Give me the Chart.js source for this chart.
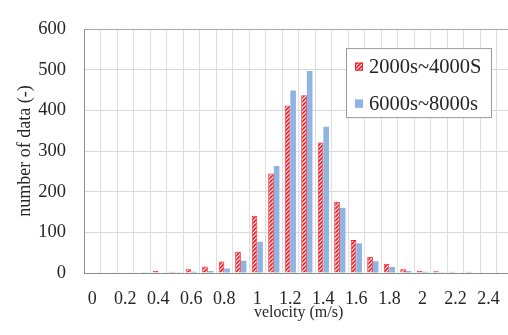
<!DOCTYPE html>
<html>
<head>
  <meta charset="utf-8">
  <title>Velocity histogram</title>
  <style>
    html, body {
      margin: 0;
      padding: 0;
      background: #fff;
      overflow: hidden;
    }
    /* canvas is a bit wider than the window, the last bin runs off the right edge */
    .wrap {
      width: 520px;
      height: 335px;
    }
  </style>
</head>
<body>
  <div class="wrap">
    <canvas id="histChart" width="520" height="335"></canvas>
  </div>

  <script src="https://cdn.jsdelivr.net/npm/chart.js"></script>

  <script>
    // velocity bins (m/s)
    const velocityBins = ['0', '0.1', '0.2', '0.3', '0.4', '0.5', '0.6', '0.7', '0.8', '0.9',
      '1', '1.1', '1.2', '1.3', '1.4', '1.5', '1.6', '1.7', '1.8', '1.9',
      '2', '2.1', '2.2', '2.3', '2.4', '2.5'];

    // counts per bin
    const countsEarly = [0, 0, 0, 0, 5, 3, 9, 16, 28, 52,
      141, 245, 412, 437, 321, 175, 81, 40, 23, 9,
      5, 4, 3, 3, 0, 0];
    const countsLate = [0, 0, 0, 2, 1, 2, 3, 5, 11, 30,
      77, 263, 449, 497, 360, 160, 73, 29, 15, 5,
      3, 2, 1, 1, 0, 0];

    const seriesNames = ['2000s~4000S', '6000s~8000s'];
    const yTicks = [0, 100, 200, 300, 400, 500, 600];

    const RED = '#f0202a';
    const BLUE = '#8fb4e3';
    const TEXT = '#262626';
    const SERIF = "'Liberation Serif', 'Times New Roman', serif";

    // red diagonal hatch on white
    function makeHatch() {
      const c = document.createElement('canvas');
      c.width = 4;
      c.height = 4;
      const g = c.getContext('2d');
      g.fillStyle = '#fff';
      g.fillRect(0, 0, 4, 4);
      g.strokeStyle = RED;
      g.lineWidth = 1.8;
      g.beginPath();
      g.moveTo(-1, 1); g.lineTo(1, -1);
      g.moveTo(0, 4); g.lineTo(4, 0);
      g.moveTo(3, 5); g.lineTo(5, 3);
      g.stroke();
      return g.createPattern(c, 'repeat');
    }

    const hatch = makeHatch();

    // legend box inside the plot area
    const boxLegend = {
      id: 'boxLegend',
      afterDraw(chart) {
        const { ctx, chartArea } = chart;
        const x = chartArea.left + 262;
        const y = chartArea.top + 19;
        const w = 145, h = 69;
        ctx.save();
        ctx.fillStyle = '#fff';
        ctx.fillRect(x, y, w, h);
        ctx.strokeStyle = '#9a9a9a';
        ctx.lineWidth = 1;
        ctx.strokeRect(x + 0.5, y + 0.5, w, h);

        const rows = [y + 18.5, y + 55.5];
        const fills = [hatch, BLUE];
        const edges = [RED, BLUE];
        rows.forEach((cy, i) => {
          ctx.fillStyle = fills[i];
          ctx.fillRect(x + 9, cy - 4, 8, 8);
          ctx.strokeStyle = edges[i];
          ctx.strokeRect(x + 9.5, cy - 3.5, 7, 7);
          ctx.fillStyle = TEXT;
          ctx.font = '20.5px ' + SERIF;
          ctx.textBaseline = 'middle';
          ctx.textAlign = 'left';
          ctx.fillText(seriesNames[i], x + 23, cy + 1);
        });
        ctx.restore();
      }
    };

    const ctx = document.getElementById('histChart').getContext('2d');

    new Chart(ctx, {
      type: 'bar',
      data: {
        labels: velocityBins,
        datasets: [
          {
            label: seriesNames[0],
            data: countsEarly,
            backgroundColor: hatch,
            borderColor: RED,
            borderWidth: 1
          },
          {
            label: seriesNames[1],
            data: countsLate,
            backgroundColor: BLUE,
            borderWidth: 0
          }
        ]
      },
      options: {
        responsive: false,
        animation: false,
        devicePixelRatio: 1,
        categoryPercentage: 0.68,
        barPercentage: 1,
        layout: {
          padding: { top: 15, right: 4, bottom: 0, left: 0 }
        },
        plugins: {
          legend: { display: false },
          tooltip: { enabled: false }
        },
        scales: {
          x: {
            offset: true,
            grid: {
              offset: true,
              color: '#dedede',
              drawTicks: false
            },
            border: { color: '#8c8c8c' },
            ticks: {
              autoSkip: false,
              maxRotation: 0,
              padding: 15,
              color: TEXT,
              font: { family: SERIF, size: 18 },
              callback: (val, i) => (i % 2 === 0 ? velocityBins[i] : '')
            },
            title: {
              display: true,
              text: 'velocity (m/s)',
              color: TEXT,
              font: { family: SERIF, size: 16 },
              padding: { top: 0, bottom: 13 }
            },
            afterFit(scale) {
              scale.height = 62;
            }
          },
          y: {
            min: yTicks[0],
            max: yTicks[yTicks.length - 1],
            afterBuildTicks(scale) {
              scale.ticks = yTicks.map(v => ({ value: v }));
            },
            grid: {
              color: c => (c.tick && c.tick.value === 600 ? '#a6a6a6' : '#d9d9d9'),
              drawTicks: false
            },
            border: { color: '#8c8c8c' },
            ticks: {
              padding: 18,
              color: TEXT,
              font: { family: SERIF, size: 18.5 }
            },
            title: {
              display: true,
              text: 'number of data (-)',
              color: TEXT,
              font: { family: SERIF, size: 18 },
              padding: { top: 14, bottom: 0 }
            },
            afterFit(scale) {
              scale.width = 84;
            }
          }
        }
      },
      plugins: [boxLegend]
    });
  </script>
</body>
</html>
